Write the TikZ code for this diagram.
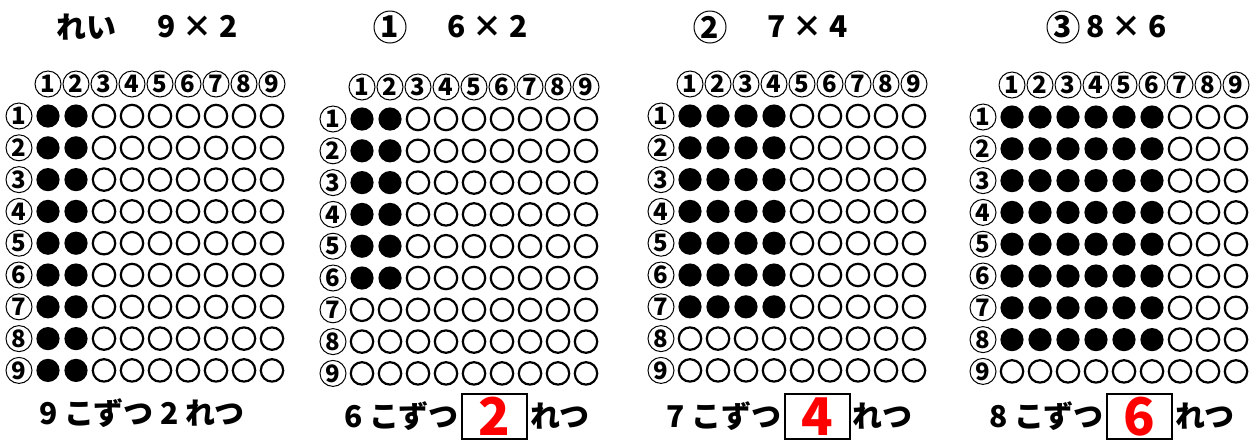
\documentclass[tikz,border=0pt]{standalone}
\usepackage{fontspec}
\setmainfont{Noto Sans CJK JP}
\usetikzlibrary{positioning}

\tikzset{
  num/.style={draw, circle, line width=0.5pt, inner sep=0pt, minimum size=13pt,
    font=\bfseries\fontsize{12}{12}\selectfont},
  bignum/.style={num, minimum size=16pt, font=\bfseries\fontsize{15}{15}\selectfont},
  emptydot/.style={draw=black, line width=1.1pt, fill=white},
  title/.style={inner sep=1pt, font=\bfseries\fontsize{15}{15}\selectfont},
  answer/.style={draw, line width=1pt, minimum width=32.5pt, minimum height=22.5pt,
    inner sep=0pt, text height=19pt, text depth=0pt, text=red,
    font=\bfseries\fontsize{26}{26}\selectfont}
}

\begin{document}
\begin{tikzpicture}[x=0.5pt, y=-0.5pt]
    \useasboundingbox (0,0) rectangle (1253,441);

    % 1. Tiêu đề
    \node[title] (t1) at (86,27) {れい};
    \node[title] (m1) at (198,27) {9 × 2};
    \node[bignum] (t2) at (390,27) {1};
    \node[title] (m2) at (488,27) {6 × 2};
    \node[bignum] (t3) at (710,27) {2};
    \node[title] (m3) at (808,27) {7 × 4};
    \node[bignum] (t4) at (1063,27) {3};
    \node[title] (m4) at (1127,27) {8 × 6};

    % 2. Bảng chấm: cột đầu / dịch dọc / số hàng / số cột tô đen
    \foreach \px/\dy/\nr/\nc [count=\p] in {48/0/9/2, 362/3/6/2, 690/0/7/4, 1012/1/8/6} {
        \foreach \c in {1,...,9}
            \node[num] (h\p-\c) at ({\px+(\c-1)*28}, {84+\dy}) {\c};
        \foreach \r in {1,...,9} {
            \node[num] (r\p-\r) at ({\px-29}, {116+\dy+(\r-1)*31.8}) {\r};
            \foreach \c in {1,...,9} {
                \pgfmathtruncatemacro\isfull{(\r<=\nr)&&(\c<=\nc)}
                \ifnum\isfull=1
                    \fill ({\px+(\c-1)*28}, {116+\dy+(\r-1)*31.8}) circle[radius=5.8pt];
                \else
                    \draw[emptydot] ({\px+(\c-1)*28}, {116+\dy+(\r-1)*31.8}) circle[radius=5.6pt];
                \fi
            }
        }
    }

    % 3. Dòng kết quả
    \node[title] (b1) at (142,413) {9 こずつ 2 れつ};
    \node[answer] (a2) at (494.5,416.5) {2};
    \node[title, left=0pt of a2] (b2) {6 こずつ};
    \node[title, right=0pt of a2] (c2) {れつ};
    \node[answer] (a3) at (817,416.5) {4};
    \node[title, left=0pt of a3] (b3) {7 こずつ};
    \node[title, right=0pt of a3] (c3) {れつ};
    \node[answer] (a4) at (1139.5,416.5) {6};
    \node[title, left=0pt of a4] (b4) {8 こずつ};
    \node[title, right=0pt of a4] (c4) {れつ};
\end{tikzpicture}
\end{document}
